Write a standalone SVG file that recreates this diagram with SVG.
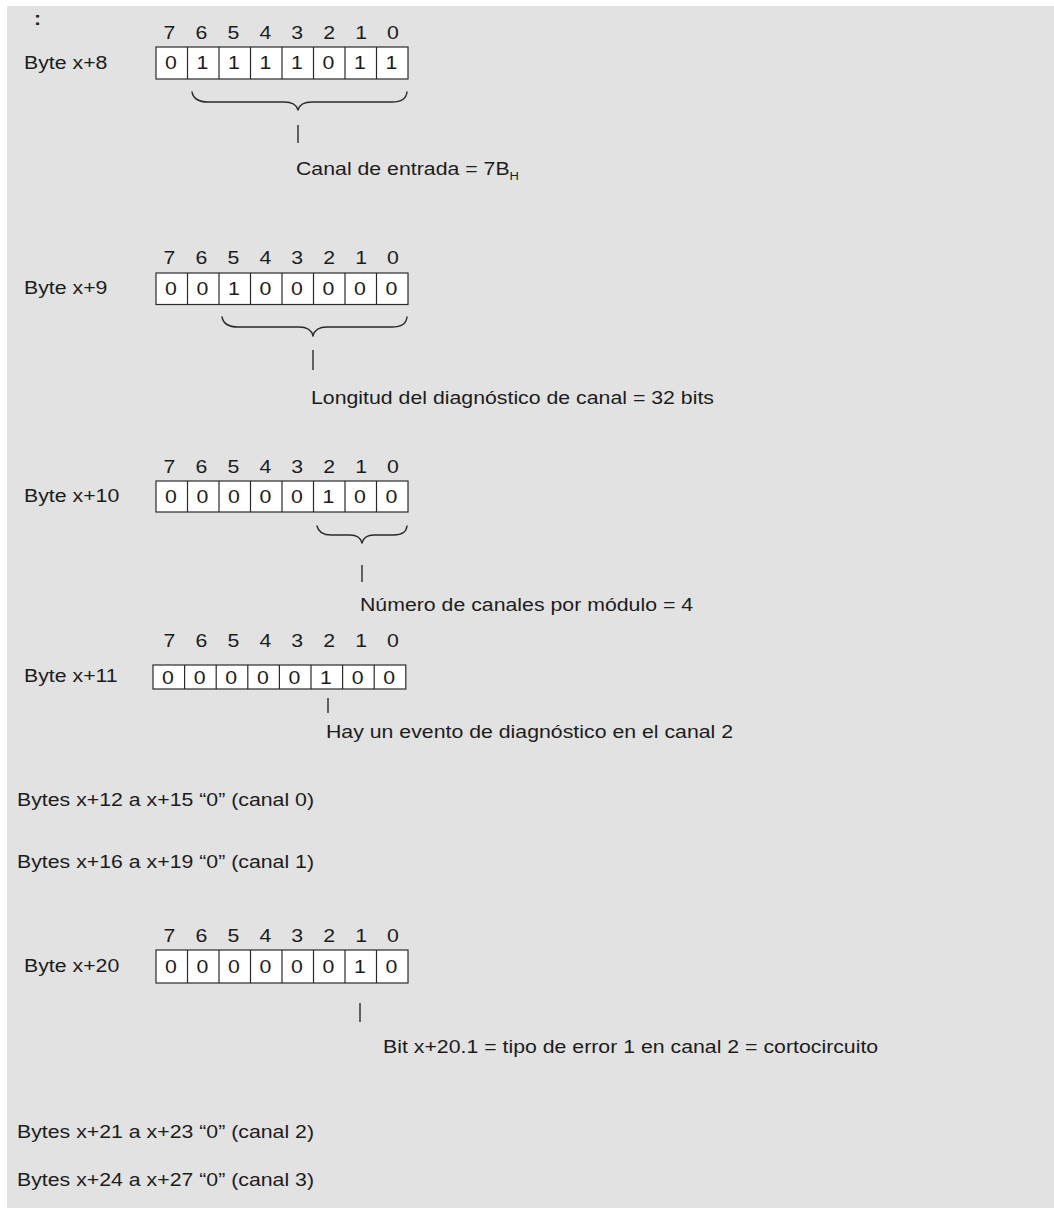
<svg xmlns="http://www.w3.org/2000/svg" width="1054" height="1208" viewBox="0 0 1054 1208">
<style>
  .bg { fill: #e2e2e2; }
  .t { font-family: "Liberation Sans", Arial, sans-serif; font-size: 21.3px; fill: #1c1c1c; }
  .c { text-anchor: middle; }
  .sub { font-size: 13px; }
  .box { fill: #ffffff; stroke: #2a2a2a; stroke-width: 1.2; }
  .div { stroke: #2a2a2a; stroke-width: 1.2; fill: none; }
  .brace { fill: none; stroke: #2a2a2a; stroke-width: 1.4; stroke-linecap: round; stroke-linejoin: round; }
  .lead { stroke: #2a2a2a; stroke-width: 1.4; }
</style>
<rect x="0" y="0" width="1054" height="1208" fill="#ffffff"/>
<rect class="bg" x="7" y="6" width="1047" height="1202"/>

<text class="t" font-weight="bold" transform="translate(34 25) scale(1 0.9)">:</text>

<!-- Byte x+8 -->
<g id="byte8">
  <text class="t" transform="translate(24 69) scale(1 0.9)">Byte x+8</text>
  <g class="t c">
    <text transform="translate(169.5 39) scale(1 0.9)">7</text>
    <text transform="translate(201.4 39) scale(1 0.9)">6</text>
    <text transform="translate(233.4 39) scale(1 0.9)">5</text>
    <text transform="translate(265.3 39) scale(1 0.9)">4</text>
    <text transform="translate(297.2 39) scale(1 0.9)">3</text>
    <text transform="translate(329.2 39) scale(1 0.9)">2</text>
    <text transform="translate(361.1 39) scale(1 0.9)">1</text>
    <text transform="translate(393 39) scale(1 0.9)">0</text>
  </g>
  <rect class="box" x="156" y="47" width="252" height="32"/>
  <path class="div" d="M187.5,47V79M219,47V79M250.5,47V79M282,47V79M313.5,47V79M345,47V79M376.5,47V79"/>
  <g class="t c">
    <text transform="translate(171 69) scale(1 0.9)">0</text>
    <text transform="translate(202.5 69) scale(1 0.9)">1</text>
    <text transform="translate(234 69) scale(1 0.9)">1</text>
    <text transform="translate(265.5 69) scale(1 0.9)">1</text>
    <text transform="translate(297 69) scale(1 0.9)">1</text>
    <text transform="translate(328.5 69) scale(1 0.9)">0</text>
    <text transform="translate(360 69) scale(1 0.9)">1</text>
    <text transform="translate(391.5 69) scale(1 0.9)">1</text>
  </g>
</g>
<g id="label8">
  <text class="t" transform="translate(296 175) scale(1 0.9)">Canal de entrada = 7B<tspan class="sub" dy="6">H</tspan></text>
</g>

<!-- Byte x+9 -->
<g id="byte9">
  <text class="t" transform="translate(24 294) scale(1 0.9)">Byte x+9</text>
  <g class="t c">
    <text transform="translate(169.5 264) scale(1 0.9)">7</text>
    <text transform="translate(201.4 264) scale(1 0.9)">6</text>
    <text transform="translate(233.4 264) scale(1 0.9)">5</text>
    <text transform="translate(265.3 264) scale(1 0.9)">4</text>
    <text transform="translate(297.2 264) scale(1 0.9)">3</text>
    <text transform="translate(329.2 264) scale(1 0.9)">2</text>
    <text transform="translate(361.1 264) scale(1 0.9)">1</text>
    <text transform="translate(393 264) scale(1 0.9)">0</text>
  </g>
  <rect class="box" x="156" y="273" width="252" height="31.5"/>
  <path class="div" d="M187.5,273V304.5M219,273V304.5M250.5,273V304.5M282,273V304.5M313.5,273V304.5M345,273V304.5M376.5,273V304.5"/>
  <g class="t c">
    <text transform="translate(171 295) scale(1 0.9)">0</text>
    <text transform="translate(202.5 295) scale(1 0.9)">0</text>
    <text transform="translate(234 295) scale(1 0.9)">1</text>
    <text transform="translate(265.5 295) scale(1 0.9)">0</text>
    <text transform="translate(297 295) scale(1 0.9)">0</text>
    <text transform="translate(328.5 295) scale(1 0.9)">0</text>
    <text transform="translate(360 295) scale(1 0.9)">0</text>
    <text transform="translate(391.5 295) scale(1 0.9)">0</text>
  </g>
</g>
<g id="label9">
  <text class="t" transform="translate(311 404) scale(1 0.9)">Longitud del diagnóstico de canal = 32 bits</text>
</g>

<!-- Byte x+10 -->
<g id="byte10">
  <text class="t" transform="translate(24 502) scale(1 0.9)">Byte x+10</text>
  <g class="t c">
    <text transform="translate(169.5 473) scale(1 0.9)">7</text>
    <text transform="translate(201.4 473) scale(1 0.9)">6</text>
    <text transform="translate(233.4 473) scale(1 0.9)">5</text>
    <text transform="translate(265.3 473) scale(1 0.9)">4</text>
    <text transform="translate(297.2 473) scale(1 0.9)">3</text>
    <text transform="translate(329.2 473) scale(1 0.9)">2</text>
    <text transform="translate(361.1 473) scale(1 0.9)">1</text>
    <text transform="translate(393 473) scale(1 0.9)">0</text>
  </g>
  <rect class="box" x="156" y="481" width="252" height="31"/>
  <path class="div" d="M187.5,481V512M219,481V512M250.5,481V512M282,481V512M313.5,481V512M345,481V512M376.5,481V512"/>
  <g class="t c">
    <text transform="translate(171 503) scale(1 0.9)">0</text>
    <text transform="translate(202.5 503) scale(1 0.9)">0</text>
    <text transform="translate(234 503) scale(1 0.9)">0</text>
    <text transform="translate(265.5 503) scale(1 0.9)">0</text>
    <text transform="translate(297 503) scale(1 0.9)">0</text>
    <text transform="translate(328.5 503) scale(1 0.9)">1</text>
    <text transform="translate(360 503) scale(1 0.9)">0</text>
    <text transform="translate(391.5 503) scale(1 0.9)">0</text>
  </g>
</g>
<g id="label10">
  <text class="t" transform="translate(360 611) scale(1 0.9)">Número de canales por módulo = 4</text>
</g>

<!-- Byte x+11 -->
<g id="byte11">
  <text class="t" transform="translate(24 682) scale(1 0.9)">Byte x+11</text>
  <g class="t c">
    <text transform="translate(169.5 647) scale(1 0.9)">7</text>
    <text transform="translate(201.4 647) scale(1 0.9)">6</text>
    <text transform="translate(233.4 647) scale(1 0.9)">5</text>
    <text transform="translate(265.3 647) scale(1 0.9)">4</text>
    <text transform="translate(297.2 647) scale(1 0.9)">3</text>
    <text transform="translate(329.2 647) scale(1 0.9)">2</text>
    <text transform="translate(361.1 647) scale(1 0.9)">1</text>
    <text transform="translate(393 647) scale(1 0.9)">0</text>
  </g>
  <rect class="box" x="153" y="665" width="252.8" height="24"/>
  <path class="div" d="M184.6,665V689M216.2,665V689M247.8,665V689M279.4,665V689M311,665V689M342.6,665V689M374.2,665V689"/>
  <g class="t c">
    <text transform="translate(168 684) scale(1 0.9)">0</text>
    <text transform="translate(199.6 684) scale(1 0.9)">0</text>
    <text transform="translate(231.2 684) scale(1 0.9)">0</text>
    <text transform="translate(262.8 684) scale(1 0.9)">0</text>
    <text transform="translate(294.4 684) scale(1 0.9)">0</text>
    <text transform="translate(326 684) scale(1 0.9)">1</text>
    <text transform="translate(357.6 684) scale(1 0.9)">0</text>
    <text transform="translate(389.2 684) scale(1 0.9)">0</text>
  </g>
</g>
<g id="label11">
  <text class="t" transform="translate(326 738) scale(1 0.9)">Hay un evento de diagnóstico en el canal 2</text>
</g>

<g id="bytes12">
  <text class="t" transform="translate(17 806) scale(1 0.9)">Bytes x+12 a x+15 “0” (canal 0)</text>
</g>
<g id="bytes16">
  <text class="t" transform="translate(17 868) scale(1 0.9)">Bytes x+16 a x+19 “0” (canal 1)</text>
</g>

<!-- Byte x+20 -->
<g id="byte20">
  <text class="t" transform="translate(24 972) scale(1 0.9)">Byte x+20</text>
  <g class="t c">
    <text transform="translate(169.5 942) scale(1 0.9)">7</text>
    <text transform="translate(201.4 942) scale(1 0.9)">6</text>
    <text transform="translate(233.4 942) scale(1 0.9)">5</text>
    <text transform="translate(265.3 942) scale(1 0.9)">4</text>
    <text transform="translate(297.2 942) scale(1 0.9)">3</text>
    <text transform="translate(329.2 942) scale(1 0.9)">2</text>
    <text transform="translate(361.1 942) scale(1 0.9)">1</text>
    <text transform="translate(393 942) scale(1 0.9)">0</text>
  </g>
  <rect class="box" x="156" y="950" width="252" height="33"/>
  <path class="div" d="M187.5,950V983M219,950V983M250.5,950V983M282,950V983M313.5,950V983M345,950V983M376.5,950V983"/>
  <g class="t c">
    <text transform="translate(171 973) scale(1 0.9)">0</text>
    <text transform="translate(202.5 973) scale(1 0.9)">0</text>
    <text transform="translate(234 973) scale(1 0.9)">0</text>
    <text transform="translate(265.5 973) scale(1 0.9)">0</text>
    <text transform="translate(297 973) scale(1 0.9)">0</text>
    <text transform="translate(328.5 973) scale(1 0.9)">0</text>
    <text transform="translate(360 973) scale(1 0.9)">1</text>
    <text transform="translate(391.5 973) scale(1 0.9)">0</text>
  </g>
</g>
<g id="label20">
  <text class="t" transform="translate(383 1053) scale(1 0.9)">Bit x+20.1 = tipo de error 1 en canal 2 = cortocircuito</text>
</g>

<g id="bytes21">
  <text class="t" transform="translate(17 1138) scale(1 0.9)">Bytes x+21 a x+23 “0” (canal 2)</text>
</g>
<g id="bytes24">
  <text class="t" transform="translate(17 1186) scale(1 0.9)">Bytes x+24 a x+27 “0” (canal 3)</text>
</g>

<!-- connectors: braces and leader lines -->
<g id="connectors">
  <path class="brace" d="M192,92 Q194,102 208,102 L284,102 Q296,102 298,110 Q300,102 312,102 L392,102 Q406,102 407,92"/>
  <line class="lead" x1="298" y1="125" x2="298" y2="143"/>
  <path class="brace" d="M222,317 Q224,327 238,327 L299,327 Q311,327 313,336 Q315,327 327,327 L392,327 Q406,327 407,317"/>
  <line class="lead" x1="313" y1="350" x2="313" y2="370"/>
  <path class="brace" d="M317,526 Q319,535 331,535 L350,535 Q360,535 362,543 Q364,535 374,535 L394,535 Q406,535 407,526"/>
  <line class="lead" x1="362" y1="565" x2="362" y2="582"/>
  <line class="lead" x1="328" y1="698" x2="328" y2="713"/>
  <line class="lead" x1="360" y1="1003" x2="360" y2="1022"/>
</g>
</svg>
